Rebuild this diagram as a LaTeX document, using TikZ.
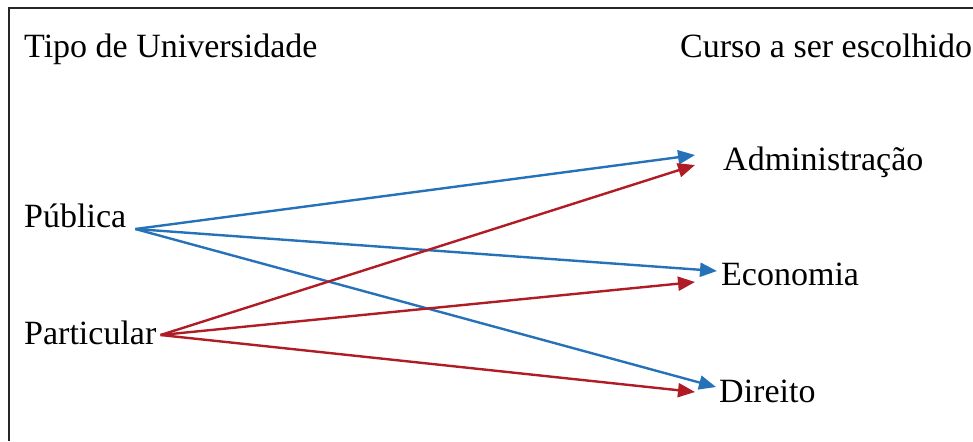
\documentclass[tikz,border=0pt]{standalone}
\usepackage{fontspec}
\setmainfont{Liberation Serif}
\usetikzlibrary{arrows.meta,calc}

\definecolor{pubblue}{RGB}{38,114,184}
\definecolor{partred}{RGB}{175,28,38}

\def\Lx{23}
\def\Rx{720}

\begin{document}
\begin{tikzpicture}[x=0.5pt, y=-0.5pt, line width=1.2pt,
    every node/.style={inner sep=0pt, anchor=base west, font=\fontsize{17}{20}\selectfont},
    link/.style={-{Triangle[length=8.5pt, width=7pt]}}]
    \useasboundingbox (0,0) rectangle (973,441);
    \draw[black!85, line width=1pt] (9,441) -- (9,8) -- (973,8);

    \node (tipo) at (\Lx,57) {Tipo de Universidade};
    \node (curso) at (679,57) {Curso a ser escolhido};
    \node (pub) at (\Lx,227) {Pública};
    \node (part) at (\Lx,344) {Particular};
    \node (adm) at (722,170) {Administração};
    \node (eco) at (\Rx,285) {Economia};
    \node (dir) at (718,402) {Direito};

    \draw[link, pubblue] ($(pub.base east)+(8,2)$) -- ($(adm.base west)+(-27,-15)$);
    \draw[link, pubblue] ($(pub.base east)+(8,2)$) -- ($(eco.base west)+(-3,-14)$);
    \draw[link, pubblue] ($(pub.base east)+(8,2)$) -- ($(dir.base west)+(-2,-15)$);
    \draw[link, partred] ($(part.base east)+(3,-9)$) -- ($(adm.base west)+(-27,-5)$);
    \draw[link, partred] ($(part.base east)+(3,-9)$) -- ($(eco.base west)+(-25,-3)$);
    \draw[link, partred] ($(part.base east)+(3,-9)$) -- ($(dir.base west)+(-23,-10)$);
\end{tikzpicture}
\end{document}
